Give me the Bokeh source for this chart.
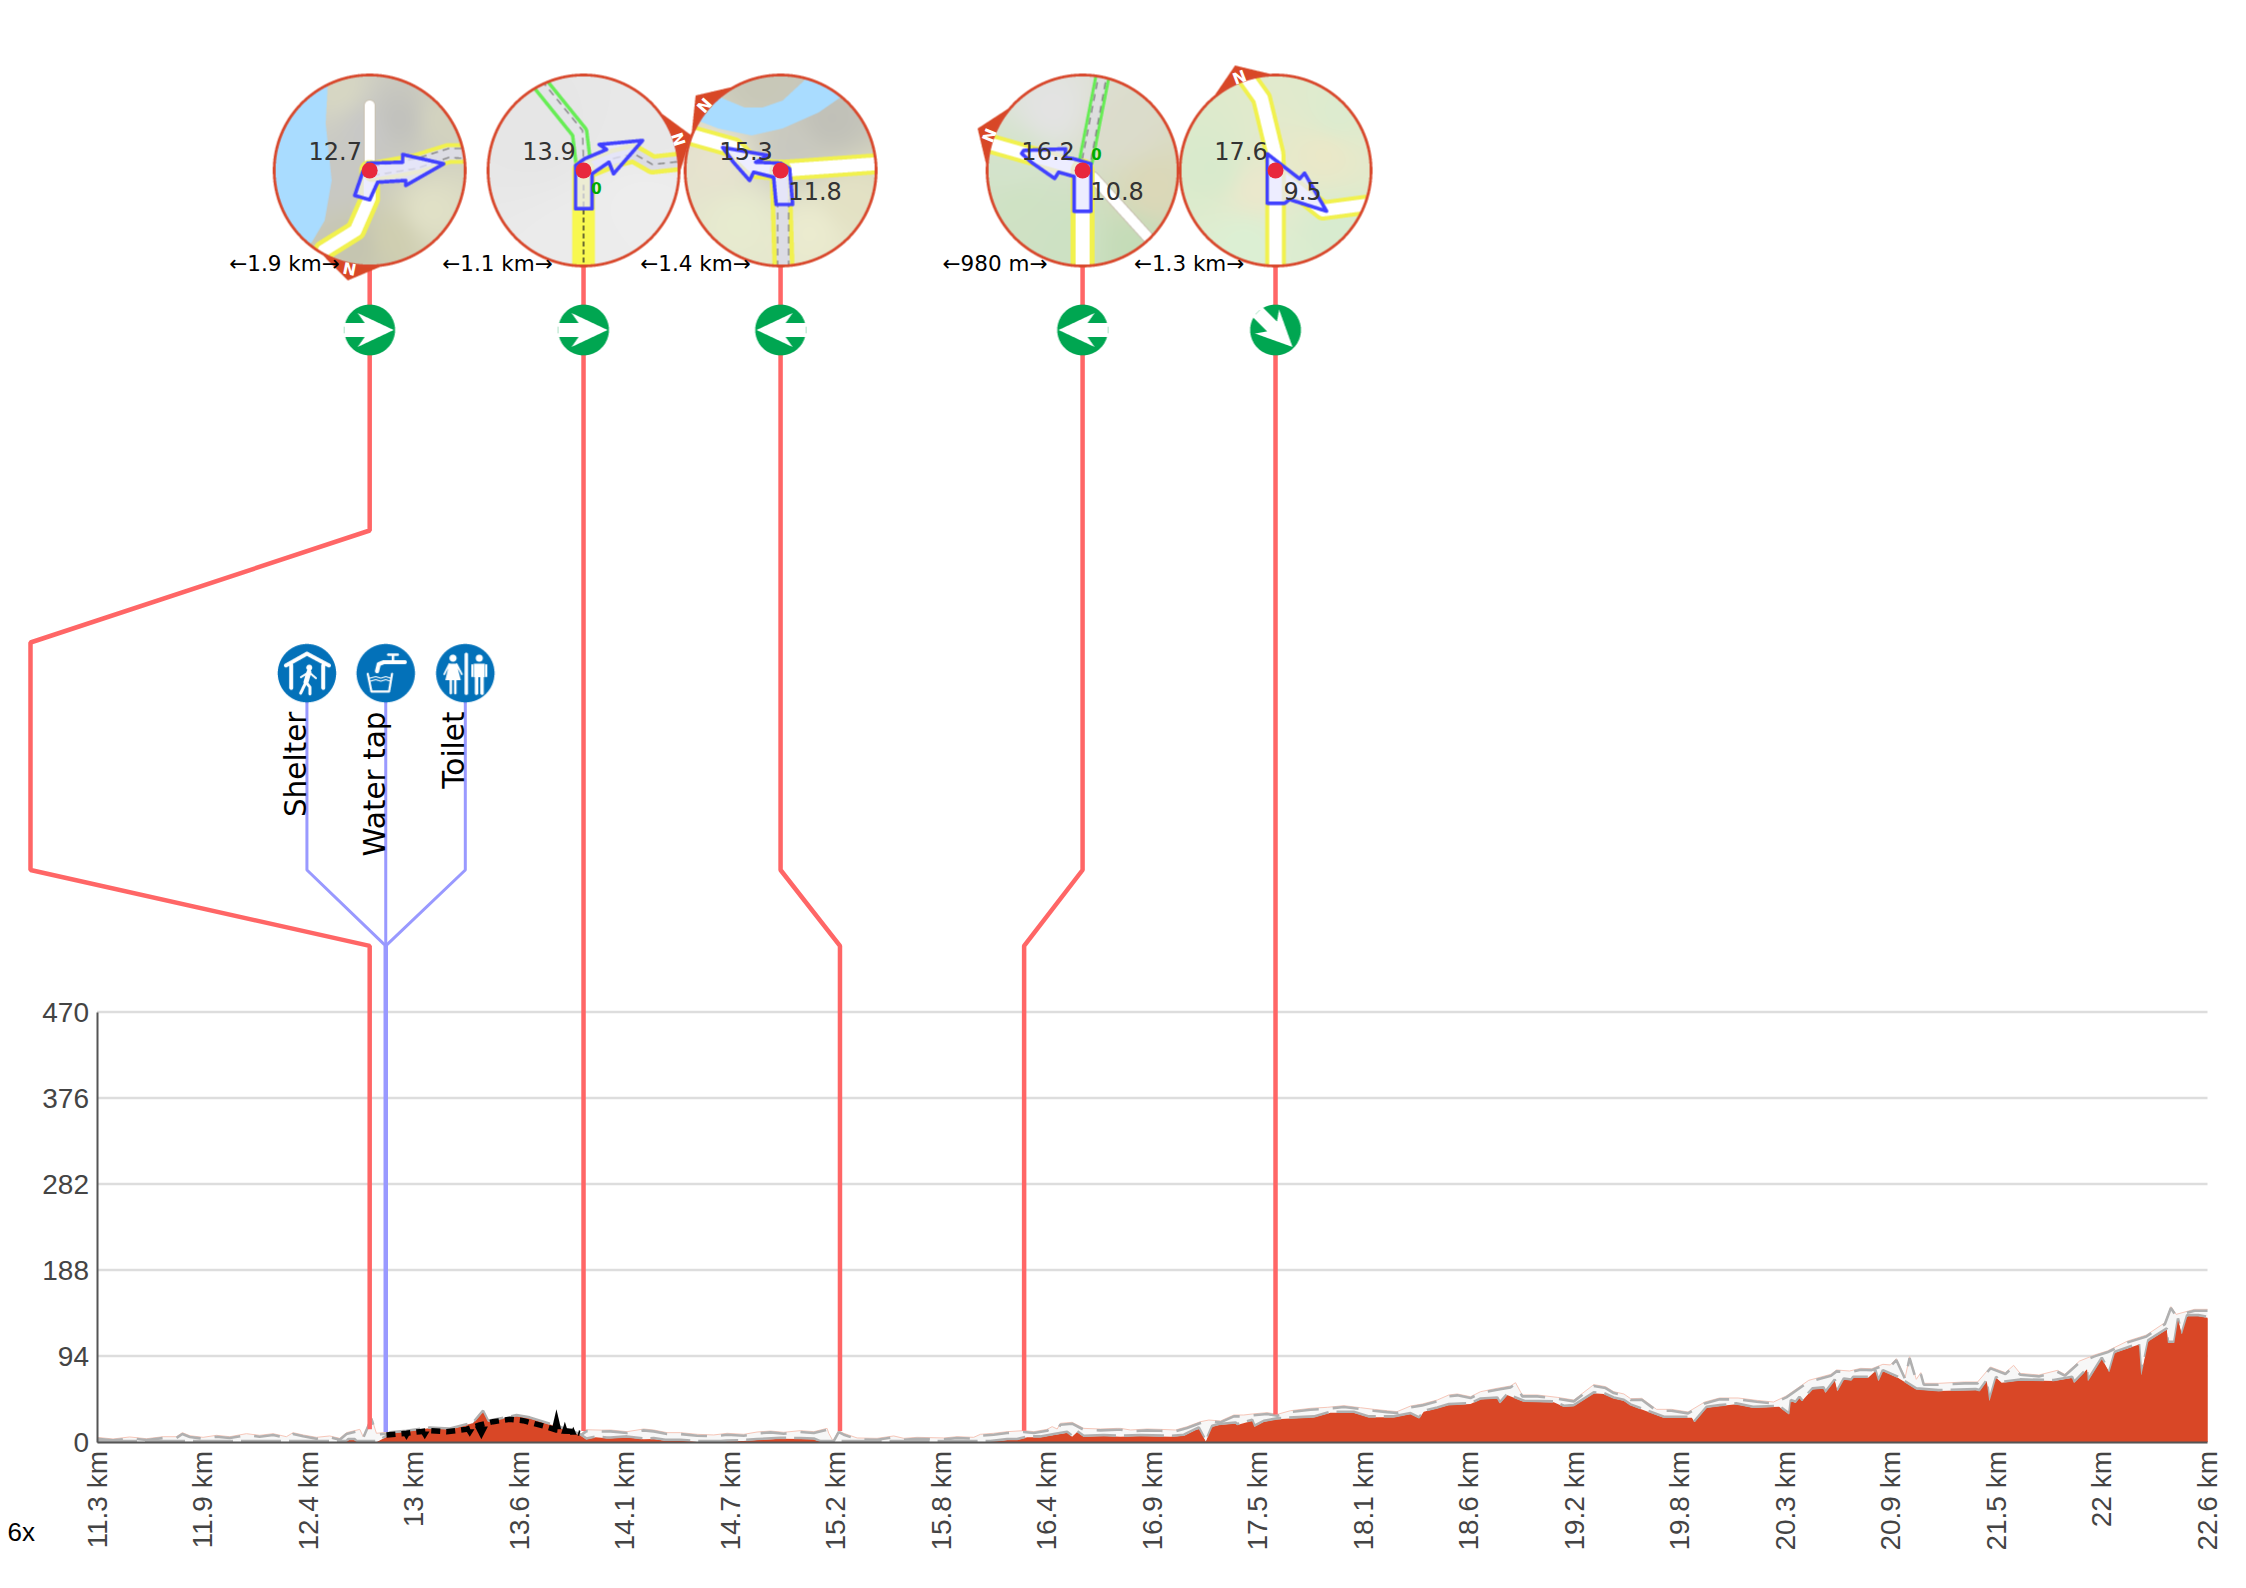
import math
import numpy as np
from bokeh.core.properties import value
from bokeh.embed import file_html
from bokeh.models import FixedTicker, Range1d
from bokeh.plotting import figure
from bokeh.resources import INLINE

# ---------- chart data ----------
x_tick_km = [11.3 + i * 0.565 for i in range(21)]
x_tick_labels = ["11.3 km", "11.9 km", "12.4 km", "13 km", "13.6 km", "14.1 km", "14.7 km",
                 "15.2 km", "15.8 km", "16.4 km", "16.9 km", "17.5 km", "18.1 km", "18.6 km",
                 "19.2 km", "19.8 km", "20.3 km", "20.9 km", "21.5 km", "22 km", "22.6 km"]
y_ticks = [0, 94, 188, 282, 376, 470]

upper_km = [11.3, 11.386, 11.475, 11.565, 11.654, 11.725, 11.757, 11.797, 11.868, 11.94, 12.011, 12.1,
            12.171, 12.243, 12.314, 12.35, 12.404, 12.475, 12.546, 12.6, 12.636, 12.707, 12.725, 12.769,
            12.796, 12.85, 12.868, 12.957, 13.082, 13.189, 13.314, 13.367, 13.394, 13.546, 13.617, 13.76,
            13.885, 13.92, 14.0, 14.05, 14.138, 14.227, 14.281, 14.352, 14.424, 14.513, 14.602, 14.674,
            14.763, 14.834, 14.906, 14.977, 15.066, 15.138, 15.209, 15.218, 15.241, 15.271, 15.298, 15.37,
            15.477, 15.566, 15.62, 15.691, 15.834, 15.905, 15.994, 16.03, 16.101, 16.173, 16.262, 16.316,
            16.387, 16.414, 16.441, 16.458, 16.521, 16.583, 16.673, 16.762, 16.78, 16.834, 16.923, 16.994,
            17.074, 17.137, 17.208, 17.253, 17.315, 17.387, 17.44, 17.485, 17.565, 17.619, 17.69, 17.797,
            17.887, 17.976, 18.065, 18.136, 18.208, 18.261, 18.333, 18.395, 18.476, 18.538, 18.583, 18.654,
            18.708, 18.797, 18.868, 18.895, 18.931, 19.011, 19.118, 19.207, 19.314, 19.377, 19.421, 19.475,
            19.511, 19.571, 19.65, 19.73, 19.819, 19.908, 19.988, 20.087, 20.187, 20.276, 20.345, 20.465,
            20.584, 20.614, 20.683, 20.743, 20.802, 20.862, 20.902, 20.934, 20.981, 21.005, 21.041, 21.065,
            21.081, 21.16, 21.299, 21.369, 21.438, 21.518, 21.562, 21.597, 21.697, 21.796, 21.836, 21.915,
            21.995, 22.064, 22.173, 22.273, 22.372, 22.404, 22.432, 22.531, 22.6]
upper_val = [5.1, 3.3, 5.5, 3.6, 5.8, 5.8, 10.2, 6.9, 5.1, 7.3, 5.8, 9.1,
             7.3, 9.1, 5.8, 10.2, 7.7, 5.1, 6.6, 4, 10.2, 13.8, 5.8, 27,
             9.5, 10.6, 9.5, 11.3, 14.9, 13.8, 20.4, 33.2, 22.2, 28.4, 25.9, 16.8,
             7.7, 13.4, 13, 13.1, 11.3, 14.2, 13.1, 10.2, 10.2, 8.4, 7.7, 9.5,
             8.4, 10.9, 12, 10.6, 12.4, 11.3, 14.9, 9.5, 1.1, 12.4, 9.5, 4.4,
             4, 6.6, 4, 5.1, 4.4, 5.8, 5.1, 8.4, 9.5, 11.3, 12.4, 11.3,
             13.8, 16.8, 14.2, 20.4, 21.5, 14.9, 14.2, 14.9, 14.9, 13.1, 14.2, 13.8,
             13.1, 16.8, 22.2, 24, 23, 29.5, 29.5, 30.6, 32.1, 30.2, 34.2, 36.8,
             37.9, 39.7, 37.5, 35.7, 34.2, 33.2, 39.3, 41.5, 45.9, 51.4, 52.5, 49.5,
             55, 58.7, 61.2, 64.8, 51.4, 51.4, 48.8, 45.9, 62.7, 60.5, 55, 52.5,
             47.4, 47.7, 35.7, 35.7, 32.8, 43.7, 48.1, 48.1, 45.5, 43.7, 50.3, 67.4,
             74, 78.7, 77.6, 80.5, 80.1, 84.9, 84.2, 91.1, 70.3, 93.3, 68.5, 75.8,
             64.1, 64.1, 65.6, 65.6, 82, 75.8, 83.8, 75, 73.2, 78.3, 74, 88.5,
             95.1, 99.5, 110.4, 116.9, 130.4, 147.9, 139.5, 145, 145]

lower_km = [11.3, 12.636, 12.645, 12.68, 12.69, 12.8, 12.85, 12.868, 12.957, 13.082, 13.189, 13.314,
            13.367, 13.394, 13.546, 13.617, 13.76, 13.885, 13.92, 13.97, 14.03, 14.049, 14.138, 14.227,
            14.281, 14.343, 14.424, 14.513, 14.638, 14.674, 14.763, 14.834, 14.959, 15.066, 15.138, 15.173,
            16.083, 16.173, 16.226, 16.28, 16.351, 16.423, 16.494, 16.521, 16.548, 16.583, 16.69, 16.78,
            16.887, 17.048, 17.119, 17.199, 17.237, 17.271, 17.306, 17.396, 17.405, 17.485, 17.497, 17.547,
            17.619, 17.708, 17.815, 17.904, 18.029, 18.11, 18.243, 18.333, 18.379, 18.404, 18.476, 18.538,
            18.654, 18.708, 18.797, 18.811, 18.85, 18.94, 19.1, 19.154, 19.207, 19.314, 19.368, 19.421,
            19.475, 19.511, 19.69, 19.839, 19.853, 19.918, 19.988, 20.077, 20.167, 20.306, 20.361, 20.369,
            20.395, 20.415, 20.429, 20.485, 20.544, 20.554, 20.604, 20.618, 20.653, 20.693, 20.703, 20.783,
            20.822, 20.838, 20.862, 20.942, 21.041, 21.16, 21.359, 21.379, 21.418, 21.432, 21.468, 21.498,
            21.597, 21.776, 21.875, 21.885, 21.955, 21.959, 22.034, 22.074, 22.104, 22.233, 22.245, 22.283,
            22.382, 22.388, 22.422, 22.442, 22.462, 22.491, 22.551, 22.6]
lower_val = [0, 0, 2.2, 2.2, 0, 0, 5.8, 9.5, 11.3, 14.9, 13.8, 20.4,
             33.2, 22.2, 28.4, 25.9, 16.8, 7.7, 2.9, 5.1, 4, 4, 5.1, 2.9,
             3.3, 1.5, 1.5, 0, 0, 0.7, 1.1, 2.2, 3.6, 3.3, 2.9, 0,
             0, 2.2, 2.2, 5.1, 5.1, 7.7, 10.2, 5.8, 10.9, 5.8, 6.6, 5.8,
             6.6, 5.8, 6.9, 14.9, 0.4, 16.8, 18.6, 20.4, 18.6, 23.3, 16.8, 22.2,
             24.8, 25.9, 27, 32.1, 32.1, 27, 27, 30.6, 25.9, 33.2, 36.8, 40.4,
             41.5, 46.6, 47.7, 42.3, 51.4, 44.1, 43.4, 38.6, 39.3, 53.2, 52.5, 47.7,
             45.2, 40.1, 26.6, 26.6, 21.9, 37.5, 39.3, 41.2, 37.5, 38.6, 30.2, 44.8,
             43, 48.5, 44.8, 57.6, 58.7, 53.9, 67.4, 55.7, 68.5, 67.4, 70.3, 70.3,
             77.6, 66.7, 77.6, 70.3, 57.6, 55.7, 56.8, 55.7, 66.7, 44.8, 70.3, 64.8,
             67.4, 66.7, 70.3, 64.8, 79.4, 66.7, 91.1, 76.5, 97.6, 106.7, 72.9, 110.4,
             123.1, 108.6, 108.6, 134.1, 117.7, 137.7, 137.7, 135.9]

# highlighted stretch, drawn dashed in black
black_km = [12.85, 12.957, 13.028, 13.082, 13.171, 13.278, 13.349, 13.421, 13.51, 13.581, 13.689, 13.76, 13.849, 13.885]
black_val = [7.7, 9.5, 11.3, 12.4, 11.3, 13.8, 18.6, 22.2, 24.8, 23.3, 17.5, 13.1, 11.3, 9.5]
spike_km = [12.957, 13.055, 13.296, 13.358, 13.76, 13.805, 13.85]
spike_tip = [2.2, 2.9, 5.8, 2.9, 35.7, 22, 16.8]
spike_base = [9.5, 11.5, 14, 17, 14, 9, 8]
spike_half = [0.021, 0.025, 0.025, 0.035, 0.025, 0.02, 0.018]

# turns
turn_top_km = [12.76, 13.905, 14.96, 16.577, 17.61]
turn_end_km = [12.76, 13.905, 15.278, 16.264, 17.61]
turn_end_val = [14, 12, 12, 12.4, 30]
turn_here = ["12.7", "13.9", "15.3", "16.2", "17.6"]
turn_left = ["", "", "11.8", "10.8", "9.5"]
turn_dist = ["\u21901.9 km\u2192", "\u21901.1 km\u2192", "\u21901.4 km\u2192", "\u2190980 m\u2192", "\u21901.3 km\u2192"]
turn_heading = [0, 0, 180, 180, -45]
poi_km = [12.424, 12.846, 13.272]
poi_end_km = 12.846
poi_end_val = 11
poi_names = ["Shelter", "Water tap", "Toilet"]

# ---------- scales ----------
KM_PX = (2207 - 96.5) / 11.3
VAL_PX = 430 / 470


def X(px):
    return 11.3 + (px - 96.5) / KM_PX


def Y(py):
    return (1441.5 - py) / VAL_PX


def PX(km):
    return 96.5 + (km - 11.3) * KM_PX


p = figure(width=2230, height=1572, output_backend="svg", toolbar_location=None,
           x_range=Range1d(X(0), X(2230)), y_range=Range1d(Y(1572), Y(0)),
           min_border=0, min_border_left=0, min_border_right=0, min_border_top=0, min_border_bottom=0,
           outline_line_color=None)
p.xgrid.visible = False
p.ygrid.visible = False

p.xaxis.fixed_location = 0
p.xaxis.bounds = (11.3, 22.6)
p.xaxis.ticker = FixedTicker(ticks=x_tick_km)
p.xaxis.major_label_overrides = {t: l for t, l in zip(x_tick_km, x_tick_labels)}
p.xaxis.major_label_orientation = math.pi / 2
p.yaxis.fixed_location = 11.3
p.yaxis.bounds = (0, 470)
p.yaxis.ticker = FixedTicker(ticks=y_ticks)
for ax, st in ((p.xaxis, 3), (p.yaxis, 2)):
    ax.major_tick_line_color = None
    ax.minor_tick_line_color = None
    ax.major_label_text_font = "Liberation Sans"
    ax.major_label_text_font_size = "28px"
    ax.major_label_text_color = "#444444"
    ax.major_label_standoff = st
    ax.axis_line_color = "#555555"
    ax.axis_line_width = 2

# grid
p.segment(x0=[11.3] * len(y_ticks), x1=[22.6] * len(y_ticks), y0=y_ticks, y1=y_ticks,
          line_color="#dddddd", line_width=2.5)

# profile
band_x = upper_km + lower_km[::-1]
band_y = upper_val + lower_val[::-1]
p.patch(band_x, band_y, fill_color="#f7f7f7", line_color=None)
p.line(upper_km, upper_val, line_color="#f6c6b8", line_width=1)
p.line(upper_km, [v - 1.5 for v in upper_val], line_color="#b0b0b0", line_width=2.6, line_dash="26 14")
p.patch([11.3] + lower_km + [22.6], [0] + lower_val + [0], fill_color="#d94726", line_color=None)
p.line(lower_km, [v + 1 for v in lower_val], line_color="#b0b0b0", line_width=2.6, line_dash="40 8")
p.patch([11.3] + lower_km + [22.6], [0] + [max(v - 1, 0) for v in lower_val] + [0],
        fill_color="#d94726", line_color=None)
p.line(black_km, black_val, line_color="black", line_width=5.5, line_dash="9 6")
p.patches([[k - h, k, k + h] for k, h in zip(spike_km, spike_half)],
          [[b, t, b] for b, t in zip(spike_base, spike_tip)], fill_color="black", line_color=None)

# leaders
Y_TOP = Y(264)
Y_A, Y_B = Y(530), Y(642)
Y_C, Y_D = Y(869.5), Y(945.4)
RED = "#ff6666"
BLUE = "#9999ff"
bx = X(30)
red_xs = [
    [turn_top_km[0], turn_top_km[0], bx, bx, turn_end_km[0], turn_end_km[0]],
    [turn_top_km[1], turn_end_km[1]],
    [turn_top_km[2], turn_top_km[2], turn_end_km[2], turn_end_km[2]],
    [turn_top_km[3], turn_top_km[3], turn_end_km[3], turn_end_km[3]],
    [turn_top_km[4], turn_end_km[4]],
]
red_ys = [
    [Y_TOP, Y_A, Y_B, Y_C, Y_D, turn_end_val[0]],
    [Y_TOP, turn_end_val[1]],
    [Y_TOP, Y_C, Y_D, turn_end_val[2]],
    [Y_TOP, Y_C, Y_D, turn_end_val[3]],
    [Y_TOP, turn_end_val[4]],
]
p.multi_line(red_xs, red_ys, line_color=RED, line_width=4.5)
p.line([poi_end_km, poi_end_km], [poi_end_val, Y_D], line_color=BLUE, line_width=4.5)
p.multi_line([[poi_end_km, k, k] for k in poi_km], [[Y_D, Y_C, Y(673)] for _ in poi_km],
             line_color=BLUE, line_width=3)


# ---------- small rasters for the map insets and icons ----------
def hexc(c):
    c = c.lstrip("#")
    return np.array([int(c[i:i + 2], 16) / 255 for i in (0, 2, 4)], dtype=np.float32)


class Raster:
    def __init__(self, R, ss=3):
        self.R, self.ss = R, ss
        n = 2 * R * ss
        g = (np.arange(n, dtype=np.float32) + 0.5) / ss - R
        self.GX, self.GY = np.meshgrid(g, g)
        self.rgb = np.ones((n, n, 3), dtype=np.float32)
        self.a = np.zeros((n, n), dtype=np.float32)

    def paint(self, mask, color, alpha=1.0):
        c = hexc(color)
        self.rgb[mask] = self.rgb[mask] * (1 - alpha) + c * alpha
        self.a[mask] = 1.0

    def poly_mask(self, pts):
        GX, GY = self.GX, self.GY
        m = np.zeros_like(GX, dtype=bool)
        for (x0, y0), (x1, y1) in zip(pts, pts[1:] + pts[:1]):
            if y0 == y1:
                continue
            m ^= ((y0 > GY) != (y1 > GY)) & (GX < (x1 - x0) * (GY - y0) / (y1 - y0) + x0)
        return m

    def poly(self, pts, color, alpha=1.0, clip=None):
        m = self.poly_mask(pts)
        if clip is not None:
            m &= clip
        self.paint(m, color, alpha)

    def line(self, pts, width, color, dash=None, clip=None, alpha=1.0):
        GX, GY = self.GX, self.GY
        best = np.full(GX.shape, 1e9, dtype=np.float32)
        along = np.zeros_like(GX)
        s0 = 0.0
        for (x0, y0), (x1, y1) in zip(pts, pts[1:]):
            dx, dy = x1 - x0, y1 - y0
            L2 = dx * dx + dy * dy
            t = np.clip(((GX - x0) * dx + (GY - y0) * dy) / L2, 0, 1)
            d = np.hypot(GX - (x0 + t * dx), GY - (y0 + t * dy))
            u = d < best
            best[u] = d[u]
            along[u] = s0 + t[u] * math.sqrt(L2)
            s0 += math.sqrt(L2)
        m = best < width / 2
        if dash:
            m &= (along % (dash[0] + dash[1])) < dash[0]
        if clip is not None:
            m &= clip
        self.paint(m, color, alpha)

    def background(self, ctrl, clip):
        d = []
        for (x, y, _) in ctrl:
            d.append(1.0 / ((self.GX - x) ** 2 + (self.GY - y) ** 2 + 300.0) ** 1.5)
        d = np.stack(d)
        d /= d.sum(axis=0)
        col = np.stack([hexc(c[2]) for c in ctrl])
        img = np.tensordot(d.transpose(1, 2, 0), col, axes=(2, 0))
        self.rgb[clip] = img[clip]
        self.a[clip] = 1.0

    def rgba(self):
        ss = self.ss
        n = self.a.shape[0] // ss
        a = self.a.reshape(n, ss, n, ss)
        prem = (self.rgb * self.a[..., None]).reshape(n, ss, n, ss, 3)
        am = a.mean(axis=(1, 3))
        pm = prem.mean(axis=(1, 3))
        col = pm / np.maximum(am[..., None], 1e-4)
        img = np.zeros((n, n), dtype=np.uint32)
        v = img.view(np.uint8).reshape(n, n, 4)
        v[..., :3] = np.clip(col * 255, 0, 255).astype(np.uint8)
        v[..., 3] = np.clip(am * 255, 0, 255).astype(np.uint8)
        return img[::-1]


def place(r, cx, cy):
    R = r.R
    p.image_rgba(image=[r.rgba()], x=X(cx - R), y=Y(cy + R),
                 dw=X(cx + R) - X(cx - R), dh=Y(cy - R) - Y(cy + R))


YEL, WHT, INNER, GRN = "#f2f24e", "#ffffff", "#dcdce4", "#66ee55"
GRAY, WATER, ARROW = "#888888", "#aadcff", "#4040ff"

insets = [
    dict(tip=(-22, 110), n=(-20, 98),
         bg=[(-30, -80, "#d8d8c4"), (0, -40, "#c8c8c8"), (30, -50, "#c0c0bc"), (70, -50, "#d4d4c0"),
             (-30, 10, "#c8c8c4"), (-10, 75, "#c4c4b0"), (60, 40, "#e2e2c8"), (20, 70, "#d0cfb0")],
         water=[[(-42, -95), (-42, -85), (-44, -47), (-38, 10), (-45, 50), (-58, 72), (-100, 90), (-100, -95)]],
         roads=[
             ("line", [(0, -65), (0, 0)], 12, "#c8c0b0"), ("line", [(0, -65), (0, 0)], 10, WHT),
             ("line", [(-46, 80), (-14, 60), (0, 28), (0, 0)], 21, YEL),
             ("line", [(-46, 80), (-14, 60), (0, 28), (0, 0)], 12, WHT),
             ("line", [(3, 1), (47, -7), (79, -17), (96, -17)], 21, YEL),
             ("line", [(3, 1), (47, -7), (79, -17), (96, -17)], 13, INNER),
             ("dash", [(3, -4), (47, -12), (79, -22), (96, -22)], 1.5, GRAY),
             ("dash", [(3, 5), (47, -2), (79, -13), (96, -12)], 1.5, GRAY),
         ],
         arrow=[(-15, 25), (0, 29.3), (8, 11.7), (36, 10), (36, 15), (74, -6.7), (33, -16), (33, -8.3),
                (-1.8, -7.3), (-7, 1.7)]),
    dict(tip=(108, -35), n=(94.6, -31),
         bg=[(-40, -40, "#e6e6e6"), (60, 40, "#eeeeee"), (0, 80, "#ececec"), (60, -50, "#e8e8e8")],
         water=[],
         roads=[
             ("line", [(-46, -90), (-4, -38), (0, -5)], 18, GRN),
             ("line", [(-46, -90), (-4, -38), (0, -5)], 11, "#e4e4e8"),
             ("dash", [(-42, -90), (-1, -40), (0, -5)], 1.5, GRAY),
             ("line", [(0, 0), (30, -12), (50, -17), (69, -6), (96, -9)], 20, YEL),
             ("line", [(0, 0), (30, -12), (50, -17), (69, -6), (96, -9)], 11, INNER),
             ("dash", [(30, -12), (50, -17), (69, -6), (96, -9)], 1.5, GRAY),
             ("line", [(0, 0), (0, 100)], 23, "#f8f850"),
             ("blk", [(0, 15), (0, 100)], 1.6, "#222222"),
         ],
         arrow=[(-8, -5), (1, -11.7), (23, -21), (15.6, -26), (59, -30), (30, 3.3), (25.4, -8.3), (8.5, 3.3),
                (8.5, 38.3), (-8, 38.3)]),
    dict(tip=(-85, -75), n=(-76, -65),
         bg=[(-60, -10, "#e8e4d0"), (50, -50, "#c0c0b8"), (70, 30, "#e4e2c4"), (-40, 50, "#e8ecd0"),
             (30, 60, "#ececd0"), (-20, -85, "#c8c8b8"), (10, -20, "#c8c8c0")],
         water=[[(-60, -73), (-36, -63), (-18, -63), (2, -70), (29, -95), (75, -95), (62.5, -75), (38, -58),
                 (2, -42), (-29, -35), (-62.5, -42), (-83, -50), (-95, -60)]],
         roads=[
             ("line", [(-100, -38), (-47, -23), (-25, -2), (0, 0), (100, -7)], 21, YEL),
             ("line", [(-100, -38), (-47, -23), (-25, -2), (0, 0), (100, -7)], 13, WHT),
             ("line", [(0, 0), (3, 100)], 22, YEL),
             ("line", [(0, 0), (3, 100)], 13, INNER),
             ("dash", [(-3, 30), (-3, 100)], 1.5, GRAY), ("dash", [(8, 30), (8, 100)], 1.5, GRAY),
         ],
         arrow=[(-58, -23), (-47, -8), (-31, 10), (-27, 1.7), (-7, 6.7), (-4.5, 34), (12, 34), (9, -1.7),
                (0, -7.3), (-25, -8.3), (-12, -15)]),
    dict(tip=(-105, -42), n=(-93, -35),
         bg=[(-30, -60, "#e4e4e4"), (40, -40, "#dcdccc"), (70, 20, "#dcd8b8"), (-60, 40, "#cfe2c4"),
             (-10, 70, "#cde2c4"), (50, 75, "#c4dcb8"), (-70, -10, "#d4e4cc")],
         water=[],
         roads=[
             ("line", [(21, -100), (3, -8)], 16, GRN), ("line", [(21, -100), (3, -8)], 10, "#dddddd"),
             ("dash", [(17, -100), (-1, -8)], 1.5, GRAY), ("dash", [(25, -100), (8, -8)], 1.5, GRAY),
             ("line", [(10.6, 6.7), (70, 72)], 12, "#c8c0b0"), ("line", [(10.6, 6.7), (70, 72)], 10, WHT),
             ("line", [(-100, -29), (-6, -2)], 20, YEL), ("line", [(-100, -29), (-6, -2)], 12, WHT),
             ("line", [(0, 0), (0, 100)], 24, YEL), ("line", [(0, 0), (0, 100)], 14, WHT),
         ],
         arrow=[(-61, -17), (-51, -8), (-28, 8), (-24, 1.7), (-8.6, 6), (-8.6, 40.7), (8.3, 40.7), (8.3, -6.7),
                (-9, -11.7), (-17.6, -13), (-17, -21.7), (-59, -20)]),
    dict(tip=(-40.5, -105), n=(-36, -93),
         bg=[(-60, 0, "#d8ebcc"), (-20, 20, "#ece8cc"), (60, -50, "#dcecd0"), (50, -20, "#ece8c8"),
             (-30, 70, "#dcf0d4"), (60, 60, "#d8ecd0")],
         water=[],
         roads=[
             ("line", [(1, 3), (47.4, 40), (100, 33)], 20, YEL), ("line", [(1, 3), (47.4, 40), (100, 33)], 12, WHT),
             ("line", [(-34, -100), (-14, -72), (-0.7, -17), (0, 0), (0, 100)], 21, YEL),
             ("line", [(-34, -100), (-14, -72), (-0.7, -17), (0, 0), (0, 100)], 13, WHT),
         ],
         arrow=[(-8.3, -16.7), (24, 8.3), (29, 2.7), (51, 40.7), (14, 29), (9.3, 32.7), (-8.3, 32.7)]),
]

CY = 170
MAP_R = 95.5
TAB = "#d94726"
LBL = dict(text_font=value("DejaVu Sans"), text_align="center", text_baseline="middle")

for i, (km, ins) in enumerate(zip(turn_top_km, insets)):
    cx = PX(km)
    r = Raster(118, 3)
    tx, ty = ins["tip"]
    ang = math.atan2(ty, tx)
    tab = [(tx, ty), (MAP_R * math.cos(ang + 0.36), MAP_R * math.sin(ang + 0.36)), (0, 0),
           (MAP_R * math.cos(ang - 0.36), MAP_R * math.sin(ang - 0.36))]
    r.poly(tab, TAB)
    disc = r.GX ** 2 + r.GY ** 2 < MAP_R ** 2
    r.background(ins["bg"], disc)
    for w in ins["water"]:
        r.poly(w, WATER, clip=disc)
    for kind, pts, wd, col in ins["roads"]:
        if kind == "line":
            r.line(pts, wd, col, clip=disc)
        elif kind == "dash":
            r.line(pts, wd, col, dash=(7, 5), clip=disc)
        else:
            r.line(pts, wd, col, dash=(5, 3), clip=disc)
    r.poly(ins["arrow"], "#e8e8ff", alpha=0.75, clip=disc)
    r.line(ins["arrow"] + ins["arrow"][:1], 3.6, ARROW, clip=disc)
    ring = np.abs(np.hypot(r.GX, r.GY) - MAP_R) < 1.4
    r.paint(ring, "#d8482c")
    place(r, cx, CY)
    nx, ny = ins["n"]
    p.text(x=[X(cx + nx)], y=[Y(CY + ny)], text=["N"], text_color="white", text_font_size="16px",
           text_font_style="bold", angle=[math.atan2(-tx, -ty)], **LBL)
    p.text(x=[X(cx - 34.5)], y=[Y(CY - 20)], text=[turn_here[i]], text_color="#333333",
           text_font_size="24px", **LBL)
    if turn_left[i]:
        ox = 27 if i == 4 else 34.5
        p.text(x=[X(cx + ox)], y=[Y(CY + 20)], text=[turn_left[i]], text_color="#333333",
               text_font_size="24px", **LBL)

# here markers
p.scatter([X(PX(k)) for k in turn_top_km], [Y(CY)] * 5, size=16, marker="circle",
          fill_color="#e8283c", line_color=None)
# small green counters
p.text(x=[X(PX(turn_top_km[1]) + 13), X(PX(turn_top_km[3]) + 14)], y=[Y(CY + 17), Y(CY - 17)],
       text=["0", "0"], text_color="#00aa00", text_font_size="15px", text_font_style="bold", **LBL)
# distances
dist_px = [284, 497, 695, 994.5, 1188.6]
p.text(x=[X(d) for d in dist_px], y=[Y(263)] * 5, text=turn_dist, text_color="black",
       text_font_size="21.5px", **LBL)

# direction arrows
ARROW_SHAPE = [(-25, -7), (-5, -7), (-12, -17), (24, 0), (-12, 17), (-5, 7), (-25, 7)]
for km, h in zip(turn_top_km, turn_heading):
    cx = PX(km)
    r = Raster(28, 3)
    disc = r.GX ** 2 + r.GY ** 2 < 25.4 ** 2
    r.paint(disc, "#00a651")
    th = math.radians(-h)
    pts = [(a * math.cos(th) - b * math.sin(th), a * math.sin(th) + b * math.cos(th)) for a, b in ARROW_SHAPE]
    r.poly(pts, "#ffffff", clip=disc)
    place(r, cx, 329.5)

# POI icons
ICON = "#0372b9"
icons = []
for km in poi_km:
    r = Raster(31, 4)
    disc = r.GX ** 2 + r.GY ** 2 < 29.2 ** 2
    r.paint(disc, ICON)
    icons.append(r)

W = "#ffffff"
r = icons[0]
r.line([(-21, -7.7), (0, -19.5), (22, -7.7)], 4, W)
r.line([(-15.7, -7.7), (-15.7, 14.7)], 4, W)
r.line([(16.3, -7.7), (16.3, 14.7)], 4, W)
r.paint(np.hypot(r.GX - 2.3, r.GY + 5.5) < 3, W)
r.line([(2, -1), (-1, 9)], 5, W)
r.line([(-1, 9), (-6.3, 20)], 3, W)
r.line([(-1, 9), (3, 14), (3, 20.7)], 3, W)
r.line([(2, -1), (-6, 4)], 2, W)
r.line([(2, -1), (9, 5)], 2, W)

r = icons[1]
r.line([(-8.7, -2), (-7, -9), (-2, -11), (19, -11)], 4.2, W)
r.line([(7.3, -11), (7.3, -18)], 2.5, W)
r.line([(2.5, -18.5), (12, -18.5)], 2.5, W)
r.line([(-18, 0.7), (-14.3, 18.3), (3.3, 18.3), (6.3, 0.7)], 2.2, W)
r.line([(-16, 5), (-10, 3.5), (-5, 5), (0, 3.5), (5, 5)], 1.1, W)
r.line([(-15.5, 8), (-10, 6.5), (-5, 8), (0, 6.5), (4.5, 8)], 1.1, W)

r = icons[2]
r.line([(1, -18.7), (1, 20)], 3.6, W)
r.paint(np.hypot(r.GX + 12.3, r.GY + 15) < 3.6, W)
r.poly([(-16, -9.5), (-8.7, -9.5), (-4.5, 7), (-20, 7)], W)
r.line([(-14.5, 7), (-14.5, 20)], 2.4, W)
r.line([(-10, 7), (-10, 20)], 2.4, W)
r.line([(-16, -9), (-21, 1)], 1.8, W)
r.line([(-8.7, -9), (-3.5, 1)], 1.8, W)
r.paint(np.hypot(r.GX - 14, r.GY + 15) < 3.6, W)
r.poly([(8.5, -9.5), (19.5, -9.5), (19.5, 4), (8.5, 4)], W)
r.line([(11.2, 4), (11.2, 20)], 3.6, W)
r.line([(16.8, 4), (16.8, 20)], 3.6, W)
r.line([(7, -8), (7, 3)], 2, W)
r.line([(21, -8), (21, 3)], 2, W)

for km, r in zip(poi_km, icons):
    place(r, PX(km), 672.7)

poi_base_px = [-11, -11, -11]
p.text(x=[X(PX(k) + o) for k, o in zip(poi_km, poi_base_px)], y=[Y(711)] * 3, text=poi_names,
       text_color="black", text_font=value("DejaVu Sans"), text_font_size="29.5px",
       text_align="right", text_baseline="alphabetic", angle=[math.pi / 2] * 3)

p.text(x=[X(7)], y=[Y(1531)], text=["6x"], text_color="black", text_font=value("Liberation Sans"),
       text_font_size="26px", text_align="left", text_baseline="middle")

open("out.html", "w").write(file_html(p, INLINE))
